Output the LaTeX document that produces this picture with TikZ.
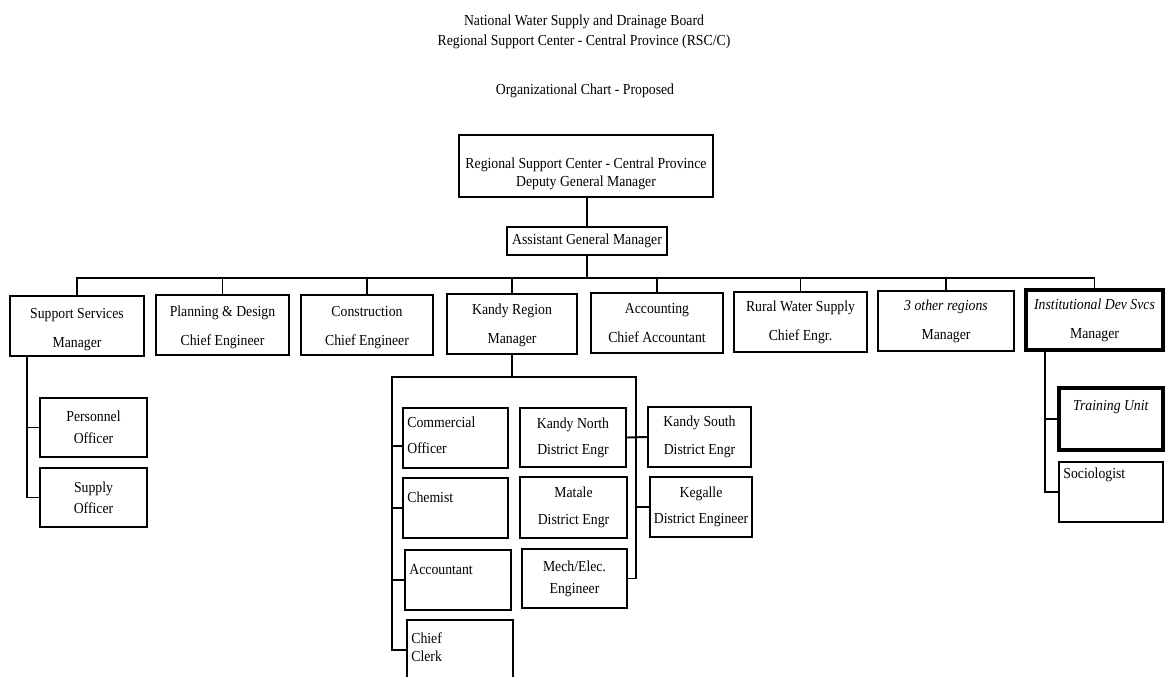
\documentclass[tikz,border=0pt]{standalone}
\usepackage{fontspec}
\setmainfont{Liberation Serif}[FakeStretch=0.9]
\usetikzlibrary{calc}
\newcommand\fsz[1]{\fontsize{8.7}{#1}\selectfont}
\newcommand\bx[7][]{\node[box,minimum width={(#5-#3)*0.02cm},minimum height={(#6-#4)*0.02cm},#1] (#2) at ({(#3+#5)/2},{(#4+#6)/2}) {#7};}
\begin{document}
\begin{tikzpicture}[x=0.02cm,y=-0.02cm,
  box/.style={draw,line width=1pt,inner sep=0pt,align=center,font=\fsz{14.8}},
  rowbox/.style={font=\fsz{16.5}},
  thickbox/.style={line width=2.4pt},
  conn/.style={line width=1.1pt},
  txt/.style={inner sep=0pt,align=left,font=\fsz{14.8}}]
\useasboundingbox (0,0) rectangle (1165,676);
\clip (0,0) rectangle (1165,676);

% titles
\node[inner sep=0pt,align=center,font=\fsz{11.4}] (t1) at (584,32) {National Water Supply and Drainage Board\\Regional Support Center - Central Province (RSC/C)};
\node[inner sep=0pt,font=\fsz{11.4}] (t3) at (585,91) {Organizational Chart - Proposed};

% top
\bx[font=\fsz{10}]{DGM}{459}{135}{713}{197}{\rule{0pt}{15pt}Regional Support Center - Central Province\\Deputy General Manager}
\bx{AGM}{507}{227}{667}{255}{Assistant General Manager}

% row
\bx[rowbox]{SS}{10}{296}{144}{356}{\rule{0pt}{10pt}Support Services\\Manager}
\bx[rowbox]{PD}{156}{295}{289}{355}{\rule{0pt}{9pt}Planning \& Design\\Chief Engineer}
\bx[rowbox]{CO}{301}{295}{433}{355}{\rule{0pt}{9pt}Construction\\Chief Engineer}
\bx[rowbox]{KR}{447}{294}{577}{354}{\rule{0pt}{8pt}Kandy Region\\Manager}
\bx[rowbox]{AC}{591}{293}{723}{353}{Accounting\\Chief Accountant}
\bx[rowbox]{RW}{734}{292}{867}{352}{Rural Water Supply\\Chief Engr.}
\bx[rowbox]{OR}{878}{291}{1014}{351}{\textit{3 other regions}\\Manager}
\bx[rowbox,thickbox]{ID}{1026}{290}{1163}{350}{\textit{Institutional Dev Svcs}\\Manager}

% support services children
\bx[font=\fsz{12.5}]{PO}{40}{398}{147}{457}{Personnel\\Officer}
\bx[font=\fsz{12}]{SU}{40}{468}{147}{527}{Supply\\Officer}

% Kandy left column
\bx{CmO}{403}{408}{508}{468}{}
\node[txt,anchor=west] (CmOt) at (407,435) {Commercial\\Officer};
\bx{CH}{403}{478}{508}{538}{}
\node[txt,anchor=west] (CHt) at (407,497) {Chemist};
\bx{AT}{405}{550}{511}{610}{}
\node[txt,anchor=west] (ATt) at (409,570) {Accountant};
\bx{CC}{407}{620}{513}{680}{}
\node[txt,anchor=west,font=\fsz{10}] (CCt) at (411,647) {Chief\\Clerk};

% Kandy middle / right columns
\bx[font=\fsz{14.8}]{KN}{520}{408}{626}{467}{Kandy North\\District Engr}
\bx[font=\fsz{15.3}]{MA}{520}{477}{627}{538}{Matale\\District Engr}
\bx[font=\fsz{12.5}]{ME}{522}{549}{627}{608}{Mech/Elec.\\Engineer}
\bx[font=\fsz{15.9}]{KS}{648}{407}{751}{467}{Kandy South\\District Engr}
\bx[font=\fsz{14.8}]{KG}{650}{477}{752}{537}{Kegalle\\District Engineer}

% institutional children
\bx[thickbox,font=\fsz{16}]{TU}{1059}{388}{1163}{450}{\textit{Training Unit}\\\mbox{}}
\bx{SO}{1059}{462}{1163}{522}{}
\node[txt,anchor=west] (SOt) at (1063,475) {Sociologist};

% connectors
\coordinate (bus) at (587,278);
\draw[conn] (DGM.south -| bus) -- (AGM.north -| bus);
\draw[conn] (AGM.south -| bus) -- (bus);
\draw[conn] (SS.north) -- (SS.north |- bus) -- (ID.north |- bus) -- (ID.north);
\foreach \n in {PD,CO,KR,AC,RW,OR} \draw[conn] (\n.north) -- (\n.north |- bus);

\coordinate (ssT) at ($(SS.south west)+(18,0)$);
\draw[conn] (ssT) |- (SU.west);
\draw[conn] (PO.west) -- (PO.west -| ssT);

\coordinate (kL) at (392,377);
\coordinate (kR) at (636,377);
\draw[conn] (KR.south) -- (KR.south |- kL);
\draw[conn] (CC.west) -| (kL) -- (kR) |- (ME.east);
\draw[conn] ([yshift=-8*0.02cm]CmO.west) -- ([yshift=-8*0.02cm]CmO.west -| kL);
\foreach \n in {CH,AT} \draw[conn] (\n.west) -- (\n.west -| kL);
\draw[conn] (KN.east) -- (KS.west);
\draw[conn] (KG.west) -- (KG.west -| kR);

\coordinate (idT) at ($(ID.south west)+(21,0)$);
\draw[conn] (idT) |- (SO.west);
\draw[conn] (TU.west) -- (TU.west -| idT);
\end{tikzpicture}
\end{document}
